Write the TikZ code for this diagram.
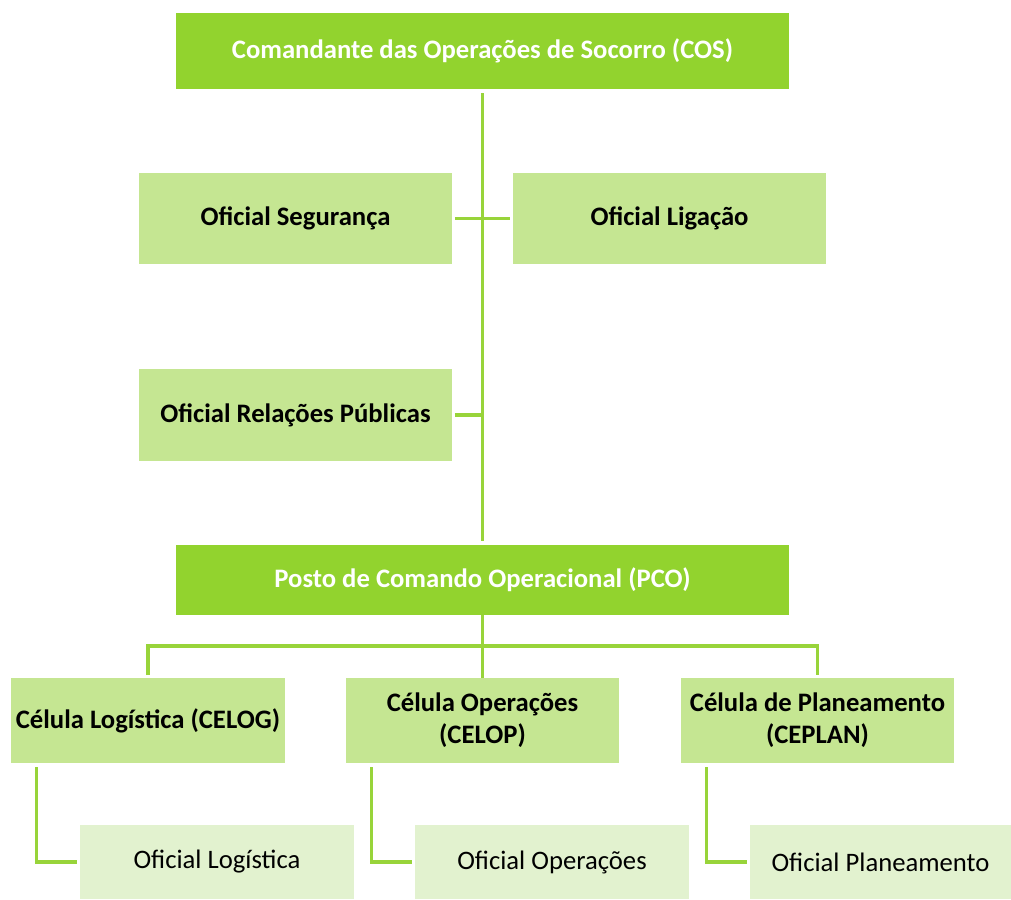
\documentclass[tikz,border=0pt]{standalone}
\usepackage{fontspec}
\setmainfont{Carlito}
\usepackage{xcolor}
\usepackage{tikz}
\definecolor{cosgreen}{HTML}{92D32E}
\definecolor{midgreen}{HTML}{C5E692}
\definecolor{leafgreen}{HTML}{E2F2CF}
\definecolor{linkgreen}{HTML}{98D43A}

\tikzset{
	chief/.style={fill=cosgreen,text=white,font=\fontsize{20}{24}\selectfont\bfseries,minimum width=613*0.75pt,inner sep=0pt},
	staff/.style={fill=midgreen,font=\fontsize{20}{24}\selectfont\bfseries,minimum width=313*0.75pt,minimum height=91*0.75pt,inner sep=0pt},
	cell/.style={fill=midgreen,font=\fontsize{20}{24}\selectfont\bfseries,minimum width=274*0.75pt,minimum height=85*0.75pt,align=center,inner sep=0pt},
	leaf/.style={fill=leafgreen,font=\fontsize{20}{24}\selectfont,minimum height=74*0.75pt,inner sep=0pt},
	link/.style={draw=linkgreen,line width=2.4pt}
}

\begin{document}
\begin{tikzpicture}[x=0.75pt,y=-0.75pt]
		\useasboundingbox (0,0) rectangle (1011,900);
		% top of the chain
		\node[chief,minimum height=76*0.75pt] (cos) at (482.5,51) {Comandante das Operações de Socorro (COS)};
		\node[staff] (seg) at (295.5,218.5) {Oficial Segurança};
		\node[staff] (lig) at (669.5,218.5) {Oficial Ligação};
		\node[staff,minimum height=92*0.75pt] (rp) at (295.5,415) {Oficial Relações Públicas};
		\node[chief,minimum height=70*0.75pt] (pco) at (482.5,580) {Posto de Comando Operacional (PCO)};
		% cells
		\node[cell] (celog) at (148,720.5) {Célula Logística (CELOG)};
		\node[cell,minimum width=273*0.75pt] (celop) at (482.5,720.5) {Célula Operações\\(CELOP)};
		\node[cell,minimum width=273*0.75pt] (ceplan) at (817.5,720.5) {Célula de Planeamento\\(CEPLAN)};
		% officers under each cell
		\node[leaf,minimum width=274*0.75pt] (ofl) at (217,862) {Oficial Logística};
		\node[leaf,minimum width=274*0.75pt] (ofo) at (552,862) {Oficial Operações};
		\node[leaf,minimum width=261*0.75pt] (ofp) at (880.5,862) {Oficial Planeamento};
		\coordinate (bus) at (483,646);

		\draw[link] ([yshift=-3pt]cos.south) -- ([yshift=3pt]pco.north);
		\draw[link] ([xshift=2pt]seg.east) -- ([xshift=-2pt]lig.east -| lig.west);
		\draw[link] ([xshift=2pt]rp.east) -- (rp.east -| cos.south);
		\draw[link] (pco.south) -- (celop.north);
		\draw[link] ([yshift=2pt]celog.north) |- (bus) -| ([yshift=2pt]ceplan.north);
		\draw[link] ([xshift=26*0.75pt,yshift=-3pt]celog.south west) |- ([xshift=-2pt]ofl.west);
		\draw[link] ([xshift=26*0.75pt,yshift=-3pt]celop.south west) |- ([xshift=-2pt]ofo.west);
		\draw[link] ([xshift=26*0.75pt,yshift=-3pt]ceplan.south west) |- ([xshift=-2pt]ofp.west);
	\end{tikzpicture}
\end{document}
